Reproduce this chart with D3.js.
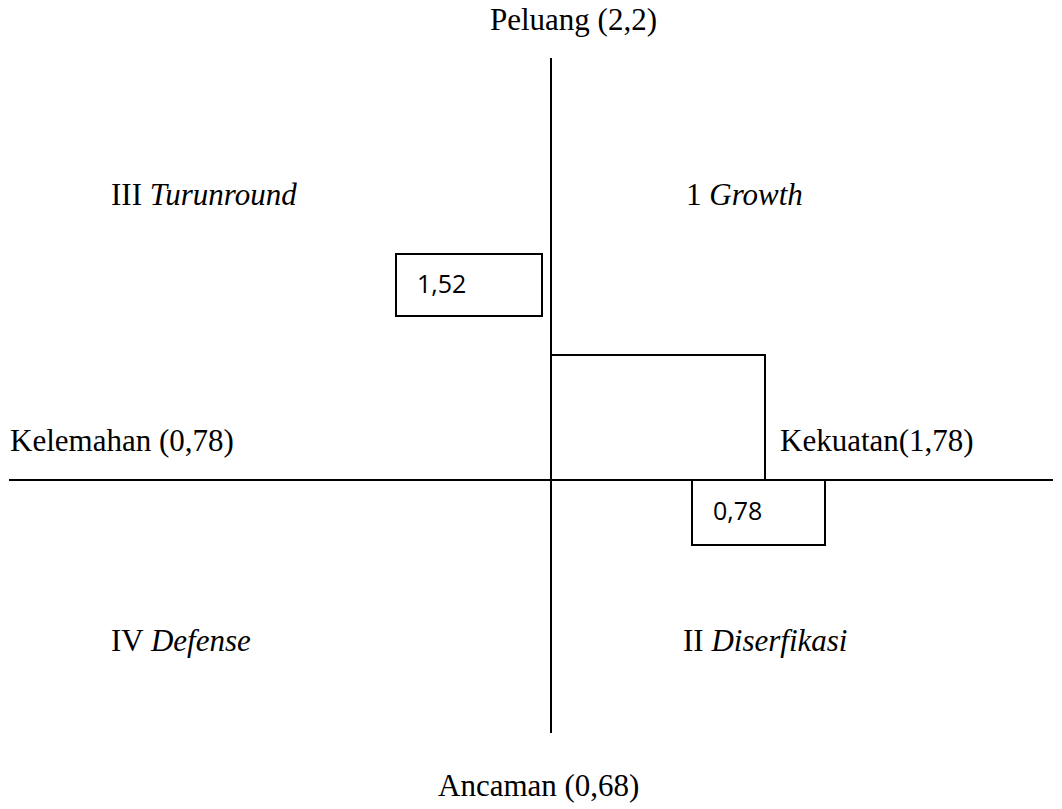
<!DOCTYPE html>
<html>
<head>
<meta charset="utf-8">
<script src="https://cdn.jsdelivr.net/npm/d3@7"></script>
<style>
  html, body { margin: 0; padding: 0; background: #fff; }
  svg { display: block; }
</style>
</head>
<body>
<svg id="chart" width="1062" height="809"></svg>
<script>
// ---- data ----
const axisLabels = ["Peluang (2,2)", "Ancaman (0,68)", "Kelemahan (0,78)", "Kekuatan(1,78)"];
const quadrantNumerals = ["III", "1", "IV", "II"];
const quadrantNames = ["Turunround", "Growth", "Defense", "Diserfikasi"];
const pointX = 0.78;   // internal factor difference (S - W)
const pointY = 1.52;   // external factor difference (O - T)
const valueLabels = ["1,52", "0,78"];

// ---- layout ----
const svg = d3.select("#chart");
const cx = 551, cy = 480;
const x = d3.scaleLinear().domain([0, pointX]).range([cx, 765]);
const y = d3.scaleLinear().domain([0, pointY]).range([cy, 355]);

const serif = "'Liberation Serif', 'Times New Roman', serif";
const sans = "'Open Sans', 'Liberation Sans', sans-serif";

// axes
svg.append("line").attr("x1", 9).attr("x2", 1053).attr("y1", cy).attr("y2", cy)
  .attr("stroke", "#000").attr("stroke-width", 2);
svg.append("line").attr("x1", cx).attr("x2", cx).attr("y1", 58).attr("y2", 733)
  .attr("stroke", "#000").attr("stroke-width", 2);

// position rectangle (origin -> point)
svg.append("path")
  .attr("d", d3.line()([[x(0), y(pointY)], [x(pointX), y(pointY)], [x(pointX), y(0)]]))
  .attr("fill", "none").attr("stroke", "#000").attr("stroke-width", 2);

// value boxes
const boxes = [
  {x0: 396, y0: 254, x1: 542, y1: 316, tx: 417, ty: 293, t: valueLabels[0]},
  {x0: 692, y0: 480, x1: 825, y1: 545, tx: 713, ty: 520, t: valueLabels[1]}
];
boxes.forEach(b => {
  svg.append("rect").attr("x", b.x0).attr("y", b.y0)
    .attr("width", b.x1 - b.x0).attr("height", b.y1 - b.y0)
    .attr("fill", "#fff").attr("stroke", "#000").attr("stroke-width", 2);
  svg.append("text").attr("x", b.tx).attr("y", b.ty)
    .attr("font-family", sans).attr("font-size", 25).attr("fill", "#000").text(b.t);
});

// axis labels
const axisPos = [
  {x: 490, y: 30}, {x: 438, y: 796}, {x: 10, y: 451}, {x: 780, y: 451}
];
axisLabels.forEach((t, i) => {
  svg.append("text").attr("x", axisPos[i].x).attr("y", axisPos[i].y)
    .attr("font-family", serif).attr("font-size", 31).attr("fill", "#000").text(t);
});

// quadrant labels
const quadPos = [
  {x: 111, y: 205}, {x: 686, y: 205}, {x: 111, y: 651}, {x: 683, y: 651}
];
quadrantNames.forEach((n, i) => {
  const t = svg.append("text").attr("x", quadPos[i].x).attr("y", quadPos[i].y)
    .attr("font-family", serif).attr("font-size", 31).attr("fill", "#000");
  t.append("tspan").text(quadrantNumerals[i] + " ");
  t.append("tspan").attr("font-style", "italic").text(n);
});
</script>
</body>
</html>
